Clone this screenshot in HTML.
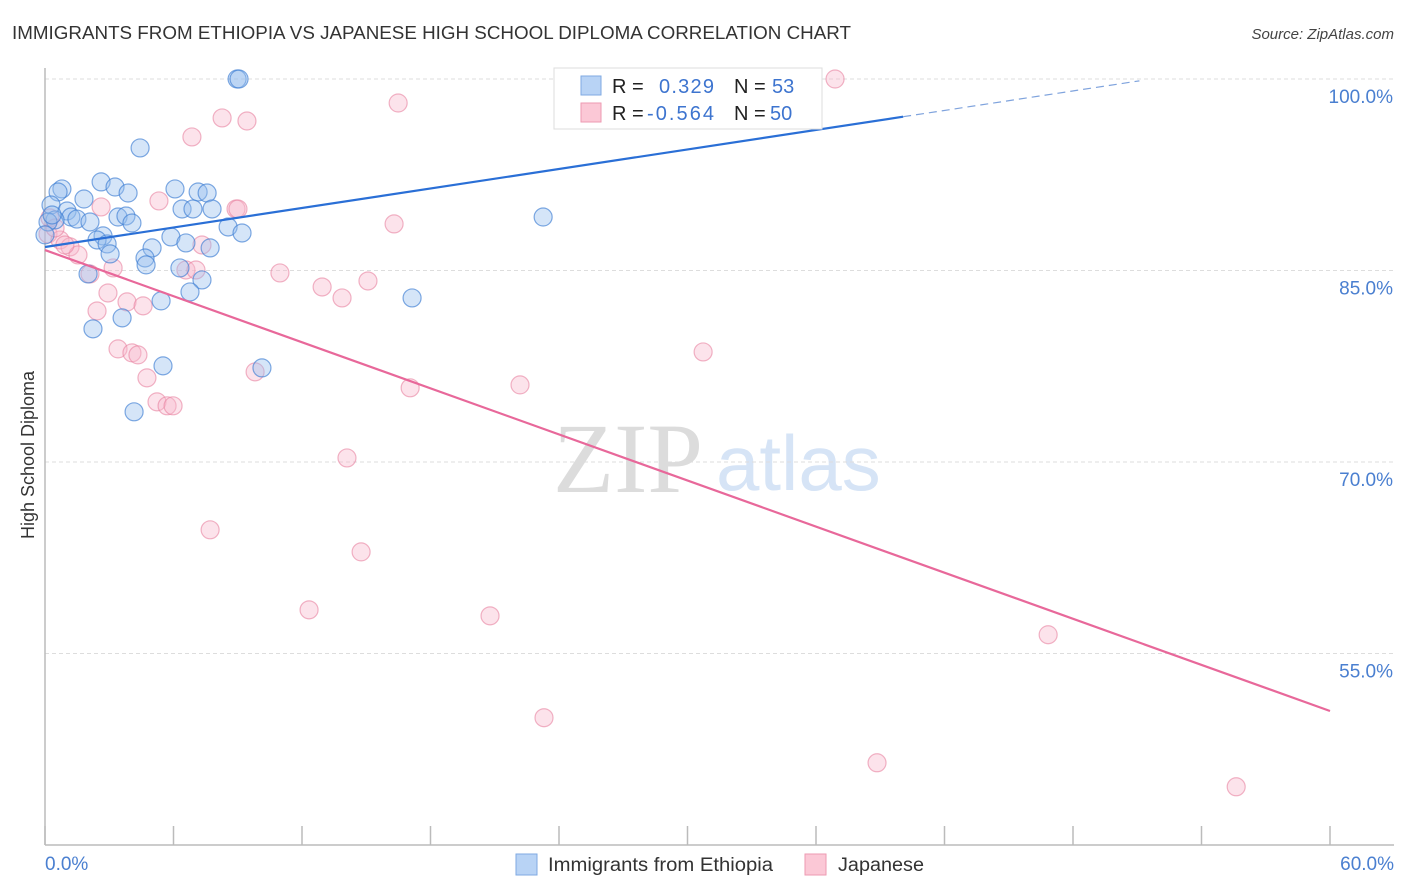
<!DOCTYPE html>
<html><head><meta charset="utf-8"><style>
body{margin:0;background:#fff;width:1406px;height:892px;overflow:hidden;font-family:"Liberation Sans",sans-serif}
svg{position:absolute;left:0;top:0}
</style></head><body>
<svg id="chart" width="1406" height="892">
<text x="12" y="39" font-size="18" fill="#333" textLength="839" lengthAdjust="spacingAndGlyphs">IMMIGRANTS FROM ETHIOPIA VS JAPANESE HIGH SCHOOL DIPLOMA CORRELATION CHART</text>
<text x="1394" y="39" font-size="15" fill="#444" font-style="italic" text-anchor="end">Source: ZipAtlas.com</text>
<g>
<text x="553" y="492" font-size="100" fill="#dcdcdc" font-family="Liberation Serif,serif">ZIP</text>
<text x="716" y="490" font-size="78" fill="#d6e4f6">atlas</text>
</g>
<g id="grid"></g>
<g id="axes"></g>
<g id="pts"></g>
<g id="lines"></g>
<text x="0" y="0" transform="translate(34,455) rotate(-90)" font-size="18" fill="#333" text-anchor="middle">High School Diploma</text>
<text x="45" y="870" font-size="19" fill="#4a7fd0">0.0%</text>
<text x="1394" y="870" font-size="19" fill="#4a7fd0" text-anchor="end">60.0%</text>
<g>
<rect x="554" y="68" width="268" height="61" fill="#fff" stroke="#ddd"/>
<rect x="581" y="76" width="20" height="19" fill="#b8d3f5" stroke="#7fa9e2"/>
<rect x="581" y="103" width="20" height="19" fill="#fbc8d6" stroke="#ee9ab2"/>
<text font-size="20" fill="#222"><tspan x="612" y="93">R =</tspan><tspan x="659" fill="#3d74cf" textLength="55">0.329</tspan><tspan x="734">N =</tspan><tspan x="772" fill="#3d74cf">53</tspan></text>
<text font-size="20" fill="#222"><tspan x="612" y="120">R =</tspan><tspan x="647" fill="#3d74cf" textLength="67">-0.564</tspan><tspan x="734">N =</tspan><tspan x="770" fill="#3d74cf">50</tspan></text>
</g>
<g>
<rect x="516" y="854" width="21" height="21" fill="#b8d3f5" stroke="#7fa9e2"/>
<text x="548" y="871" font-size="19" fill="#333" textLength="225" lengthAdjust="spacingAndGlyphs">Immigrants from Ethiopia</text>
<rect x="805" y="854" width="21" height="21" fill="#fbc8d6" stroke="#ee9ab2"/>
<text x="838" y="871" font-size="19" fill="#333" textLength="86" lengthAdjust="spacingAndGlyphs">Japanese</text>
</g>
</svg>
<script>
const yTicks=[100,85,70,55];
const xTicks=[0,6,12,18,24,30,36,42,48,54,60];
const blueX=[8.97,9.06,4.44,2.62,3.27,0.79,0.61,3.88,6.07,7.15,7.57,1.82,0.28,1.03,6.40,6.91,7.80,1.21,1.49,2.10,3.41,3.78,4.06,23.26,0.47,0.14,8.55,9.20,2.71,2.43,2.90,5.88,6.58,5.00,7.71,3.04,4.67,4.72,6.30,2.01,7.33,6.77,5.42,17.14,3.60,2.24,10.13,5.51,4.16,30.45,33.02,0.33,0.0];
const blueY=[100,100,94.6,91.94,91.54,91.39,91.15,91.07,91.39,91.15,91.07,90.6,90.13,89.66,89.82,89.82,89.82,89.19,89.03,88.8,89.19,89.27,88.72,89.19,88.96,88.8,88.41,87.94,87.71,87.39,87.08,87.63,87.16,86.77,86.77,86.3,85.98,85.44,85.2,84.73,84.26,83.32,82.62,82.85,81.29,80.43,77.37,77.53,73.93,100,100,89.35,87.79];
const pinkX=[36.89,16.49,8.27,9.43,6.86,5.32,8.92,9.01,2.62,16.30,0.23,0.14,0.70,1.17,1.54,2.10,3.18,6.58,7.05,10.97,12.94,13.87,15.08,2.94,3.83,4.58,2.43,7.33,3.41,4.06,4.34,4.76,5.23,5.70,5.98,9.81,17.05,22.18,30.73,14.10,7.71,14.76,12.33,20.78,46.84,23.30,38.85,55.62,0.47,0.93];
const pinkY=[100,98.12,96.95,96.71,95.46,90.45,89.82,89.82,89.98,88.65,89.12,87.86,87.39,86.85,86.22,84.73,85.2,85.04,85.04,84.81,83.71,82.85,84.18,83.24,82.54,82.23,81.83,87.0,78.86,78.55,78.39,76.59,74.71,74.4,74.4,77.06,75.81,76.04,78.62,70.32,64.69,62.96,58.42,57.95,56.47,49.97,46.44,44.56,88.33,87.0];
const blueFit=[86.84,0.2547];
const pinkFit=[86.6,-0.6017];
const NS='http://www.w3.org/2000/svg';
const sx=v=>45+v*1285/60;
const sy=v=>79+(100-v)*191.5/15;
function mk(tag,attrs,parent){const e=document.createElementNS(NS,tag);for(const k in attrs)e.setAttribute(k,attrs[k]);document.getElementById(parent).appendChild(e);return e;}
yTicks.forEach(t=>{
  const l=mk('line',{x1:45,x2:1393,y1:sy(t),y2:sy(t),stroke:'#ddd','stroke-dasharray':'4,3'},'grid');
  
  
  const tx=mk('text',{x:1393,y:sy(t)+24,'font-size':19,fill:'#4a7fd0','text-anchor':'end'},'grid');
  tx.textContent=t.toFixed(1)+'%';
  
  
});
let a=mk('line',{x1:45,x2:45,y1:68,y2:845,stroke:'#bbb','stroke-width':1.5},'axes');


a=mk('line',{x1:45,x2:1394,y1:845,y2:845,stroke:'#bbb','stroke-width':1.5},'axes');


xTicks.forEach(t=>{
  const l=mk('line',{x1:sx(t),x2:sx(t),y1:826,y2:845,stroke:'#bbb','stroke-width':1.5},'axes');
  
  
});
pinkX.forEach((x,i)=>{
  const c=mk('circle',{cx:sx(x),cy:sy(pinkY[i]),r:9,fill:'rgba(248,184,204,0.4)',stroke:'rgba(232,130,160,0.6)','stroke-width':1.2},'pts');
  
  
});
blueX.forEach((x,i)=>{
  const c=mk('circle',{cx:sx(x),cy:sy(blueY[i]),r:9,fill:'rgba(150,190,238,0.4)',stroke:'rgba(60,125,210,0.65)','stroke-width':1.2},'pts');
  
  
});
const fb=x=>blueFit[0]+blueFit[1]*x, fp=x=>pinkFit[0]+pinkFit[1]*x;
let ln=mk('line',{x1:sx(0),y1:sy(fb(0)),x2:sx(40.07),y2:sy(fb(40.07)),stroke:'#2a6fd6','stroke-width':2.2},'lines');


ln=mk('line',{x1:sx(40.07),y1:sy(fb(40.07)),x2:sx(51.1),y2:sy(fb(51.1)),stroke:'#7fa3dd','stroke-width':1.2,'stroke-dasharray':'8,5'},'lines');


ln=mk('line',{x1:sx(0),y1:sy(fp(0)),x2:sx(60),y2:sy(fp(60)),stroke:'#e8689a','stroke-width':2.2},'lines');


</script>
</body></html>
